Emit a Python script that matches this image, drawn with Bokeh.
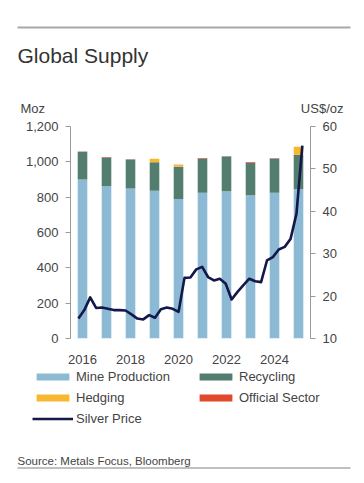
import numpy as np
from bokeh.plotting import figure
from bokeh.layouts import column
from bokeh.models import (ColumnDataSource, Range1d, LinearAxis, FixedTicker,
                          NumeralTickFormatter, Legend, LegendItem)
from bokeh.core.properties import value
from bokeh.embed import file_html
from bokeh.resources import INLINE

# ---------------- data ----------------
years = [2016, 2017, 2018, 2019, 2020, 2021, 2022, 2023, 2024, 2025]
mine_production = [900, 862, 849, 836, 789, 825, 834, 811, 825, 845]
recycling = [157, 163, 164, 162, 183, 194, 196, 183, 194, 195]
hedging = [0, 0, 0, 19, 10, 0, 0, 0, 0, 45]
official_sector = [2, 2, 1, 1, 1, 2, 2, 4, 1, 0]

silver_price = [14.7, 16.7, 19.7, 17.2, 17.3, 17.0, 16.7, 16.7, 16.6, 15.7,
                14.7, 14.5, 15.5, 14.9, 16.9, 17.3, 17.0, 16.3, 24.3, 24.4,
                26.3, 26.9, 24.5, 23.7, 24.1, 22.9, 19.2, 21.0, 22.6, 24.1,
                23.5, 23.3, 28.4, 29.2, 31.0, 31.6, 33.5, 39.4, 55.5]
price_start, price_end = 2015.83, 2025.16
price_dates = list(np.linspace(price_start, price_end, len(silver_price)))

x_ticks = [2016, 2018, 2020, 2022, 2024]
left_ticks = [0, 200, 400, 600, 800, 1000, 1200]
right_ticks = [10, 20, 30, 40, 50, 60]

series = ["mine", "recycling", "hedging", "official"]
series_labels = ["Mine Production", "Recycling", "Hedging", "Official Sector"]
price_label = "Silver Price"
colors = ["#8cb9d4", "#537d6e", "#f7b830", "#e04a2b"]
price_color = "#14174a"

title_text = "Global Supply"
left_unit = "Moz"
right_unit = "US$/oz"
source_text = "Source: Metals Focus, Bloomberg"

FONT = "Liberation Sans"
TXT = "#444444"
W = 364
NAN = float("nan")


def blank(height):
    f = figure(width=W, height=height, output_backend="svg", toolbar_location=None,
               title=None,
               x_range=Range1d(0, W), y_range=Range1d(0, height),
               x_axis_type=None, y_axis_type=None, min_border=0,
               min_border_left=0, min_border_right=0, min_border_top=0,
               min_border_bottom=0,
               outline_line_color=None, background_fill_color="white",
               border_fill_color="white")
    f.grid.visible = False
    return f


# ---------------- header (y measured upward from its bottom) ----------------
HEAD_H = 115
head = blank(HEAD_H)
head.hbar(y=[HEAD_H - 27], left=[17], right=[350], height=2,
          fill_color="#a8a8a8", line_color=None)
head.text(x=[17], y=[HEAD_H - 55], text=[title_text], text_font=value(FONT),
          text_font_size="21px", text_color="#333333", text_baseline="alphabetic")
head.text(x=[20], y=[HEAD_H - 108], text=[left_unit], text_font=value(FONT),
          text_font_size="13px", text_color=TXT, text_baseline="alphabetic")
head.text(x=[343], y=[HEAD_H - 108], text=[right_unit], text_font=value(FONT),
          text_font_size="13px", text_color=TXT, text_baseline="alphabetic",
          text_align="right")

# ---------------- main chart ----------------
MAIN_H = 253
src = ColumnDataSource(dict(year=years, mine=mine_production, recycling=recycling,
                            hedging=hedging, official=official_sector))
psrc = ColumnDataSource(dict(date=price_dates, price=silver_price))

p = figure(width=W, height=MAIN_H, output_backend="svg", toolbar_location=None,
           title=None,
           x_range=Range1d(2015.5, 2025.5), y_range=Range1d(0, 1200),
           min_border_left=70, min_border_right=54, min_border_top=11,
           min_border_bottom=30, outline_line_color=None,
           background_fill_color="white", border_fill_color="white")
p.grid.visible = False
p.extra_y_ranges = {"price": Range1d(10, 60)}

p.vbar_stack(series, x="year", width=0.4, color=colors, source=src, line_color=None)
p.line("date", "price", source=psrc, y_range_name="price",
       line_color=price_color, line_width=2.6, line_join="round")

p.xaxis.ticker = FixedTicker(ticks=x_ticks)
p.xaxis.axis_line_color = None
p.xaxis.major_tick_line_color = None
p.xaxis.minor_tick_line_color = None
p.xaxis.major_label_standoff = 10

yl = p.yaxis[0]
yl.ticker = FixedTicker(ticks=left_ticks)
yl.formatter = NumeralTickFormatter(format="0,0")

yr = LinearAxis(y_range_name="price", ticker=FixedTicker(ticks=right_ticks))
p.add_layout(yr, "right")

for ax in [p.xaxis[0], yl, yr]:
    ax.major_label_text_font = FONT
    ax.major_label_text_font_size = "13px"
    ax.major_label_text_color = TXT
for ax in [yl, yr]:
    ax.axis_line_color = "#9a9a9a"
    ax.major_tick_line_color = "#9a9a9a"
    ax.major_tick_out = 5
    ax.major_tick_in = 0
    ax.minor_tick_line_color = None
    ax.major_label_standoff = 7

# ---------------- footer (legend + source), y measured upward ----------------
FOOT_TOP = HEAD_H + MAIN_H
FOOT_H = 483 - FOOT_TOP
foot = blank(FOOT_H)
# legend keys only: same glyph styles as the chart, with no visible data
legend_bars = [foot.vbar(x=[NAN], top=[NAN], width=1, color=c, line_color=None)
               for c in colors]
legend_line = foot.line(x=[NAN, NAN], y=[NAN, NAN], line_color=price_color,
                        line_width=2.6)
items = [LegendItem(label=lbl, renderers=[r]) for lbl, r in zip(series_labels, legend_bars)]
items.append(LegendItem(label=price_label, renderers=[legend_line]))
legend = Legend(items=items, location=(32, 483 - 426),
                orientation="horizontal",
                ncols=2, glyph_width=41, glyph_height=9, label_standoff=3,
                label_width=113, label_height=14, spacing=6, padding=0, margin=0,
                label_text_font=FONT, label_text_font_size="13px",
                label_text_color=TXT, border_line_color=None,
                background_fill_alpha=0)
foot.add_layout(legend, "center")
foot.text(x=[17], y=[483 - 460], text=[source_text], text_font=value(FONT),
          text_font_size="11.5px", text_color=TXT, text_baseline="alphabetic")
foot.hbar(y=[483 - 467.5], left=[17], right=[350], height=1.5, fill_color="#ababab",
          line_color=None)

layout = column(column(head), column(p), column(foot), spacing=0)
open("out.html", "w").write(file_html(layout, INLINE))
